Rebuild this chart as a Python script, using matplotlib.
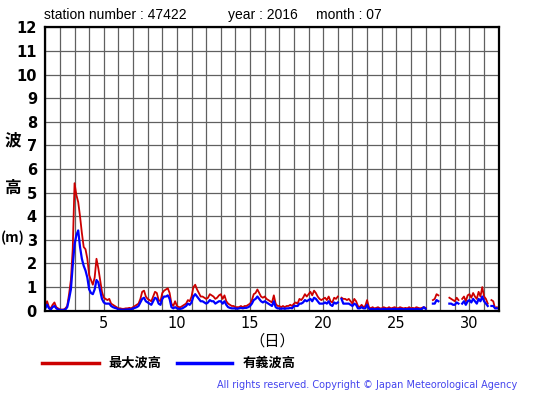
import numpy as np
import matplotlib
matplotlib.use("Agg")
import matplotlib.pyplot as plt
from matplotlib.lines import Line2D

nan = np.nan

station = "47422"
year = "2016"
month = "07"

# 3-hourly values (8 per day), July 1 .. July 31, metres
max_wave = [
    0.2, 0.4, 0.15, 0.1, 0.25, 0.35, 0.15, 0.1,      # 1
    0.05, 0.05, 0.05, 0.1, 0.2, 0.7, 1.3, 2.6,       # 2
    5.4, 4.9, 4.6, 4.0, 3.3, 2.7, 2.6, 2.2,          # 3
    1.5, 1.3, 1.1, 1.4, 2.2, 1.8, 1.3, 0.8,          # 4
    0.55, 0.5, 0.45, 0.5, 0.3, 0.25, 0.2, 0.15,      # 5
    0.1, 0.1, 0.08, 0.08, 0.1, 0.1, 0.12, 0.1,       # 6
    0.15, 0.2, 0.25, 0.3, 0.5, 0.8, 0.85, 0.6,       # 7
    0.5, 0.45, 0.4, 0.6, 0.8, 0.75, 0.45, 0.4,       # 8
    0.75, 0.85, 0.9, 0.95, 0.75, 0.3, 0.2, 0.4,      # 9
    0.2, 0.15, 0.15, 0.2, 0.25, 0.3, 0.45, 0.4,      # 10
    0.6, 1.0, 1.1, 0.9, 0.75, 0.6, 0.6, 0.55,        # 11
    0.5, 0.55, 0.7, 0.65, 0.6, 0.5, 0.55, 0.65,      # 12
    0.7, 0.5, 0.65, 0.4, 0.3, 0.25, 0.2, 0.2,        # 13
    0.15, 0.15, 0.15, 0.2, 0.15, 0.2, 0.2, 0.25,     # 14
    0.3, 0.45, 0.7, 0.75, 0.9, 0.75, 0.6, 0.55,      # 15
    0.6, 0.5, 0.45, 0.4, 0.35, 0.65, 0.3, 0.2,       # 16
    0.2, 0.15, 0.2, 0.15, 0.2, 0.2, 0.25, 0.2,       # 17
    0.3, 0.35, 0.3, 0.5, 0.45, 0.55, 0.7, 0.6,       # 18
    0.7, 0.8, 0.65, 0.85, 0.75, 0.6, 0.5, 0.45,      # 19
    0.5, 0.55, 0.45, 0.6, 0.4, 0.35, 0.55, 0.5,      # 20
    0.6, nan, 0.55, 0.5, 0.5, 0.45, 0.5, 0.4,        # 21
    0.3, 0.5, 0.4, 0.2, 0.15, 0.25, 0.15, 0.2,       # 22
    0.45, 0.15, 0.1, 0.15, 0.1, 0.12, 0.15, 0.1,     # 23
    0.1, 0.15, 0.12, 0.1, 0.15, 0.1, 0.12, 0.15,     # 24
    0.12, 0.1, 0.15, 0.12, 0.1, 0.12, 0.1, 0.15,     # 25
    0.1, 0.12, 0.1, 0.15, 0.12, 0.1, 0.12, 0.15,     # 26
    0.12, nan, nan, nan, 0.45, 0.5, 0.7, 0.65,       # 27
    nan, nan, nan, nan, nan, 0.55, 0.5, 0.45,        # 28
    0.4, 0.55, 0.45, nan, 0.5, 0.6, 0.4, 0.65,       # 29
    0.7, 0.55, 0.75, 0.6, 0.5, 0.8, 0.6, 1.0,        # 30
    0.6, 0.5, 0.3, nan, 0.45, 0.4, 0.1, 0.15,        # 31
]

sig_wave = [
    0.1, 0.25, 0.1, 0.05, 0.15, 0.2, 0.1, 0.05,      # 1
    0.03, 0.03, 0.03, 0.05, 0.15, 0.5, 0.9, 1.9,     # 2
    2.8, 3.2, 3.4, 2.7, 2.2, 1.9, 1.7, 1.4,          # 3
    0.9, 0.75, 0.7, 0.9, 1.3, 1.2, 0.85, 0.5,        # 4
    0.35, 0.3, 0.3, 0.3, 0.2, 0.15, 0.12, 0.1,       # 5
    0.05, 0.05, 0.04, 0.04, 0.05, 0.05, 0.06, 0.05,  # 6
    0.1, 0.12, 0.15, 0.2, 0.35, 0.5, 0.55, 0.4,      # 7
    0.35, 0.3, 0.25, 0.4, 0.55, 0.5, 0.3, 0.25,      # 8
    0.5, 0.6, 0.6, 0.65, 0.5, 0.15, 0.1, 0.15,       # 9
    0.1, 0.08, 0.08, 0.1, 0.15, 0.2, 0.3, 0.25,      # 10
    0.35, 0.6, 0.7, 0.6, 0.5, 0.4, 0.4, 0.35,        # 11
    0.3, 0.35, 0.45, 0.4, 0.4, 0.3, 0.35, 0.4,       # 12
    0.4, 0.3, 0.4, 0.25, 0.15, 0.12, 0.1, 0.1,       # 13
    0.1, 0.08, 0.1, 0.12, 0.1, 0.12, 0.12, 0.15,     # 14
    0.2, 0.3, 0.45, 0.5, 0.6, 0.5, 0.4, 0.35,        # 15
    0.4, 0.35, 0.3, 0.25, 0.2, 0.4, 0.15, 0.1,       # 16
    0.1, 0.08, 0.1, 0.08, 0.1, 0.1, 0.12, 0.1,       # 17
    0.2, 0.2, 0.2, 0.3, 0.3, 0.35, 0.45, 0.4,        # 18
    0.45, 0.5, 0.4, 0.55, 0.5, 0.4, 0.3, 0.3,        # 19
    0.3, 0.35, 0.3, 0.4, 0.25, 0.2, 0.35, 0.3,       # 20
    0.35, nan, 0.5, 0.3, 0.3, 0.3, 0.3, 0.25,        # 21
    0.2, 0.3, 0.25, 0.1, 0.1, 0.15, 0.1, 0.1,        # 22
    0.25, 0.08, 0.06, 0.08, 0.06, 0.07, 0.08, 0.06,  # 23
    0.06, 0.08, 0.07, 0.06, 0.08, 0.06, 0.07, 0.08,  # 24
    0.07, 0.06, 0.08, 0.07, 0.06, 0.07, 0.06, 0.08,  # 25
    0.06, 0.07, 0.06, 0.08, 0.07, 0.06, 0.07, 0.15,  # 26
    0.08, nan, nan, nan, 0.3, 0.3, 0.45, 0.4,        # 27
    nan, nan, nan, nan, nan, 0.3, 0.3, 0.25,         # 28
    0.25, 0.35, 0.3, nan, 0.3, 0.4, 0.25, 0.4,       # 29
    0.45, 0.35, 0.5, 0.4, 0.3, 0.5, 0.4, 0.6,        # 30
    0.4, 0.3, 0.2, nan, 0.2, 0.2, 0.1, 0.1,          # 31
]

days = 1 + np.arange(len(max_wave)) / 8.0

cjk = ["Noto Sans CJK JP", "DejaVu Sans"]

fig = plt.figure(figsize=(5.55, 3.95), dpi=100)
ax = fig.add_axes([0.0816, 0.2134, 0.8170, 0.7175])

ax.plot(days, max_wave, color="#cc0000", lw=1.3)
ax.plot(days, sig_wave, color="#0000ff", lw=1.6)

ax.set_xlim(1, 32)
ax.set_ylim(0, 12)
ax.set_xticks(range(5, 31, 5))
ax.set_xticks(range(1, 33), minor=True)
ax.set_yticks(range(0, 13))
ax.grid(True, which="both", color="#606060", lw=0.9)
ax.tick_params(which="both", length=0)
ax.tick_params(axis="x", labelsize=10.5, pad=4)
ax.tick_params(axis="y", labelsize=10.5, pad=6)
for lab in ax.get_yticklabels():
    lab.set_fontweight("bold")
for s in ax.spines.values():
    s.set_linewidth(1.6)

ax.set_xlabel("（日）", fontsize=11, family=cjk, labelpad=1)

fig.text(0.024, 1 - 140 / 395, "波", fontsize=12, family=cjk, fontweight="bold", ha="center", va="center")
fig.text(0.024, 1 - 188 / 395, "高", fontsize=12, family=cjk, fontweight="bold", ha="center", va="center")
fig.text(13 / 555, 1 - 238 / 395, "(m)", fontsize=10, family=cjk, fontweight="bold", ha="center", va="center")

fig.text(44 / 555, 1 - 15 / 395, "station number : " + station, fontsize=10, family="Liberation Sans", va="center")
fig.text(228 / 555, 1 - 15 / 395, "year : " + year, fontsize=10, family="Liberation Sans", va="center")
fig.text(316 / 555, 1 - 15 / 395, "month : " + month, fontsize=10, family="Liberation Sans", va="center")

# legend
ly = 1 - 363 / 395
fig.add_artist(Line2D([42 / 555, 99 / 555], [ly, ly], color="#cc0000", lw=2.5))
fig.add_artist(Line2D([177 / 555, 232 / 555], [ly, ly], color="#0000ff", lw=2.5))
fig.text(108 / 555, ly, "最大波高", fontsize=9.5, family=cjk, fontweight="bold", va="center")
fig.text(243 / 555, ly, "有義波高", fontsize=9.5, family=cjk, fontweight="bold", va="center")

fig.text(517 / 555, 1 - 385 / 395, "All rights reserved. Copyright © Japan Meteorological Agency",
         fontsize=7, color="#4444ee", ha="right", va="center")

fig.savefig("out.png", dpi=100)
